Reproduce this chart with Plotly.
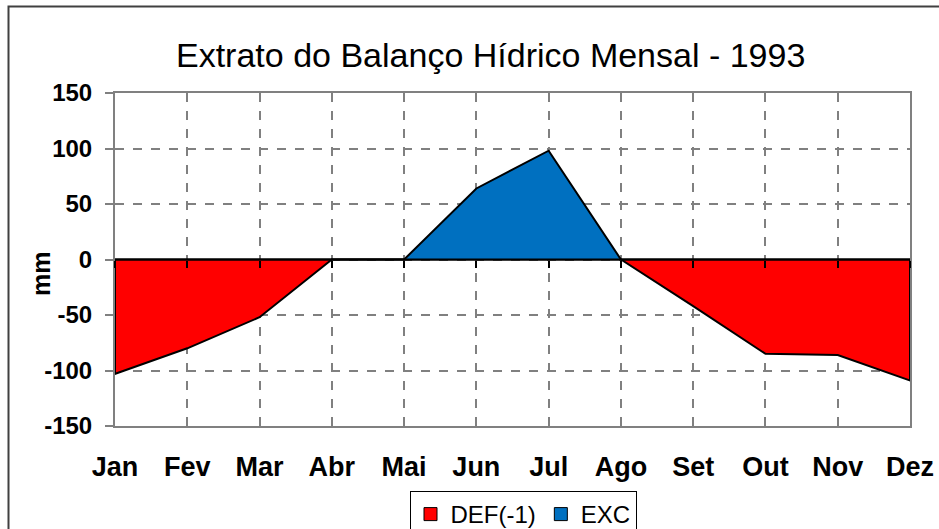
import plotly.graph_objects as go

# Monthly water balance extract, 1993 (mm)
months = ["Jan", "Fev", "Mar", "Abr", "Mai", "Jun", "Jul", "Ago", "Set", "Out", "Nov", "Dez"]
deficit = [-103, -80, -52, 0, 0, 0, 0, 0, -42, -85, -86, -109]   # DEF(-1)
excess = [0, 0, 0, 0, 0, 64, 98, 0, 0, 0, 0, 0]                    # EXC
y_ticks = [-150, -100, -50, 0, 50, 100, 150]
y_tick_text = ["-150", "-100", "-50", "0", "50", "100", "150"]

FONT = "Arial, Liberation Sans, sans-serif"
GRID = "#808080"

W, H = 939, 529
M_L, M_R, M_T, M_B = 115, 29, 93, 103
plot_w = W - M_L - M_R
plot_h = H - M_T - M_B


def px_x(px):
    return (px - M_L) / plot_w


def px_y(py):
    return (H - M_B - py) / plot_h


idx = list(range(len(months)))


def closed(vals):
    # close each area back onto the zero baseline
    return [idx[0]] + idx + [idx[-1]], [0] + list(vals) + [0]


series = [("DEF(-1)", deficit, "#FF0000"), ("EXC", excess, "#0070C0")]

fig = go.Figure()
for name, vals, color in series:
    xs, ys = closed(vals)
    fig.add_trace(go.Scatter(
        x=xs, y=ys, name=name, mode="lines", fill="toself",
        fillcolor=color, line=dict(color="black", width=2),
        hoverinfo="skip", showlegend=False,
    ))

# zero axis with its small category ticks
fig.add_trace(go.Scatter(x=[idx[0], idx[-1]], y=[0, 0], xaxis="x2", mode="lines",
                         line=dict(color="black", width=2), showlegend=False,
                         hoverinfo="skip"))

# square legend keys
for name, vals, color in series:
    fig.add_trace(go.Scatter(
        x=[None], y=[None], name=name, mode="markers",
        marker=dict(symbol="square", size=13, color=color,
                    line=dict(color="black", width=1)),
    ))

fig.update_layout(
    width=W, height=H,
    margin=dict(l=M_L, r=M_R, t=M_T, b=M_B, autoexpand=False),
    paper_bgcolor="white", plot_bgcolor="white",
    font=dict(family=FONT, color="black"),
    showlegend=True,
    legend=dict(
        orientation="h", x=px_x(523), xanchor="center", y=px_y(491), yanchor="top",
        font=dict(size=24, family=FONT), bordercolor="black", borderwidth=1,
        bgcolor="white", itemwidth=30, tracegroupgap=0,
    ),
    xaxis=dict(
        range=[idx[0], idx[-1]], tickmode="array", tickvals=idx, ticktext=months,
        showgrid=True, gridcolor=GRID, gridwidth=2, griddash="dash",
        showline=True, linecolor=GRID, linewidth=2, mirror=True,
        ticks="", ticklabelstandoff=16,
        tickfont=dict(size=27, family=FONT, weight="bold"),
        zeroline=False,
    ),
    xaxis2=dict(
        overlaying="x", anchor="free", position=px_y(H - M_B - plot_h / 2),
        range=[idx[0], idx[-1]], tickmode="array", tickvals=idx,
        showticklabels=False, ticks="outside", ticklen=7, tickwidth=1.5,
        tickcolor="black", showline=False, showgrid=False, zeroline=False,
    ),
    yaxis=dict(
        range=[-150, 150], tickmode="array", tickvals=y_ticks, ticktext=y_tick_text,
        showgrid=True, gridcolor=GRID, gridwidth=2, griddash="dash",
        showline=True, linecolor=GRID, linewidth=2, mirror=True,
        ticks="outside", ticklen=8, tickwidth=2, tickcolor=GRID,
        ticklabelstandoff=8,
        tickfont=dict(size=24, family=FONT, weight="bold"),
        zeroline=False,
    ),
    annotations=[
        dict(text="Extrato do Balanço Hídrico Mensal - 1993", xref="paper", yref="paper",
             x=px_x(490), y=px_y(55), xanchor="center", yanchor="middle",
             showarrow=False, font=dict(size=34, family=FONT, color="black")),
        dict(text="<b>mm</b>", xref="paper", yref="paper", x=px_x(41), y=px_y(274),
             xanchor="center", yanchor="middle", textangle=-90, showarrow=False,
             font=dict(size=25, family=FONT, color="black")),
    ],
    shapes=[
        dict(type="rect", xref="paper", yref="paper",
             x0=px_x(8.5), x1=px_x(W + 40), y0=px_y(H + 40), y1=px_y(6.5),
             line=dict(color="#404040", width=2), layer="above"),
    ],
)

fig.write_html("out.html")
